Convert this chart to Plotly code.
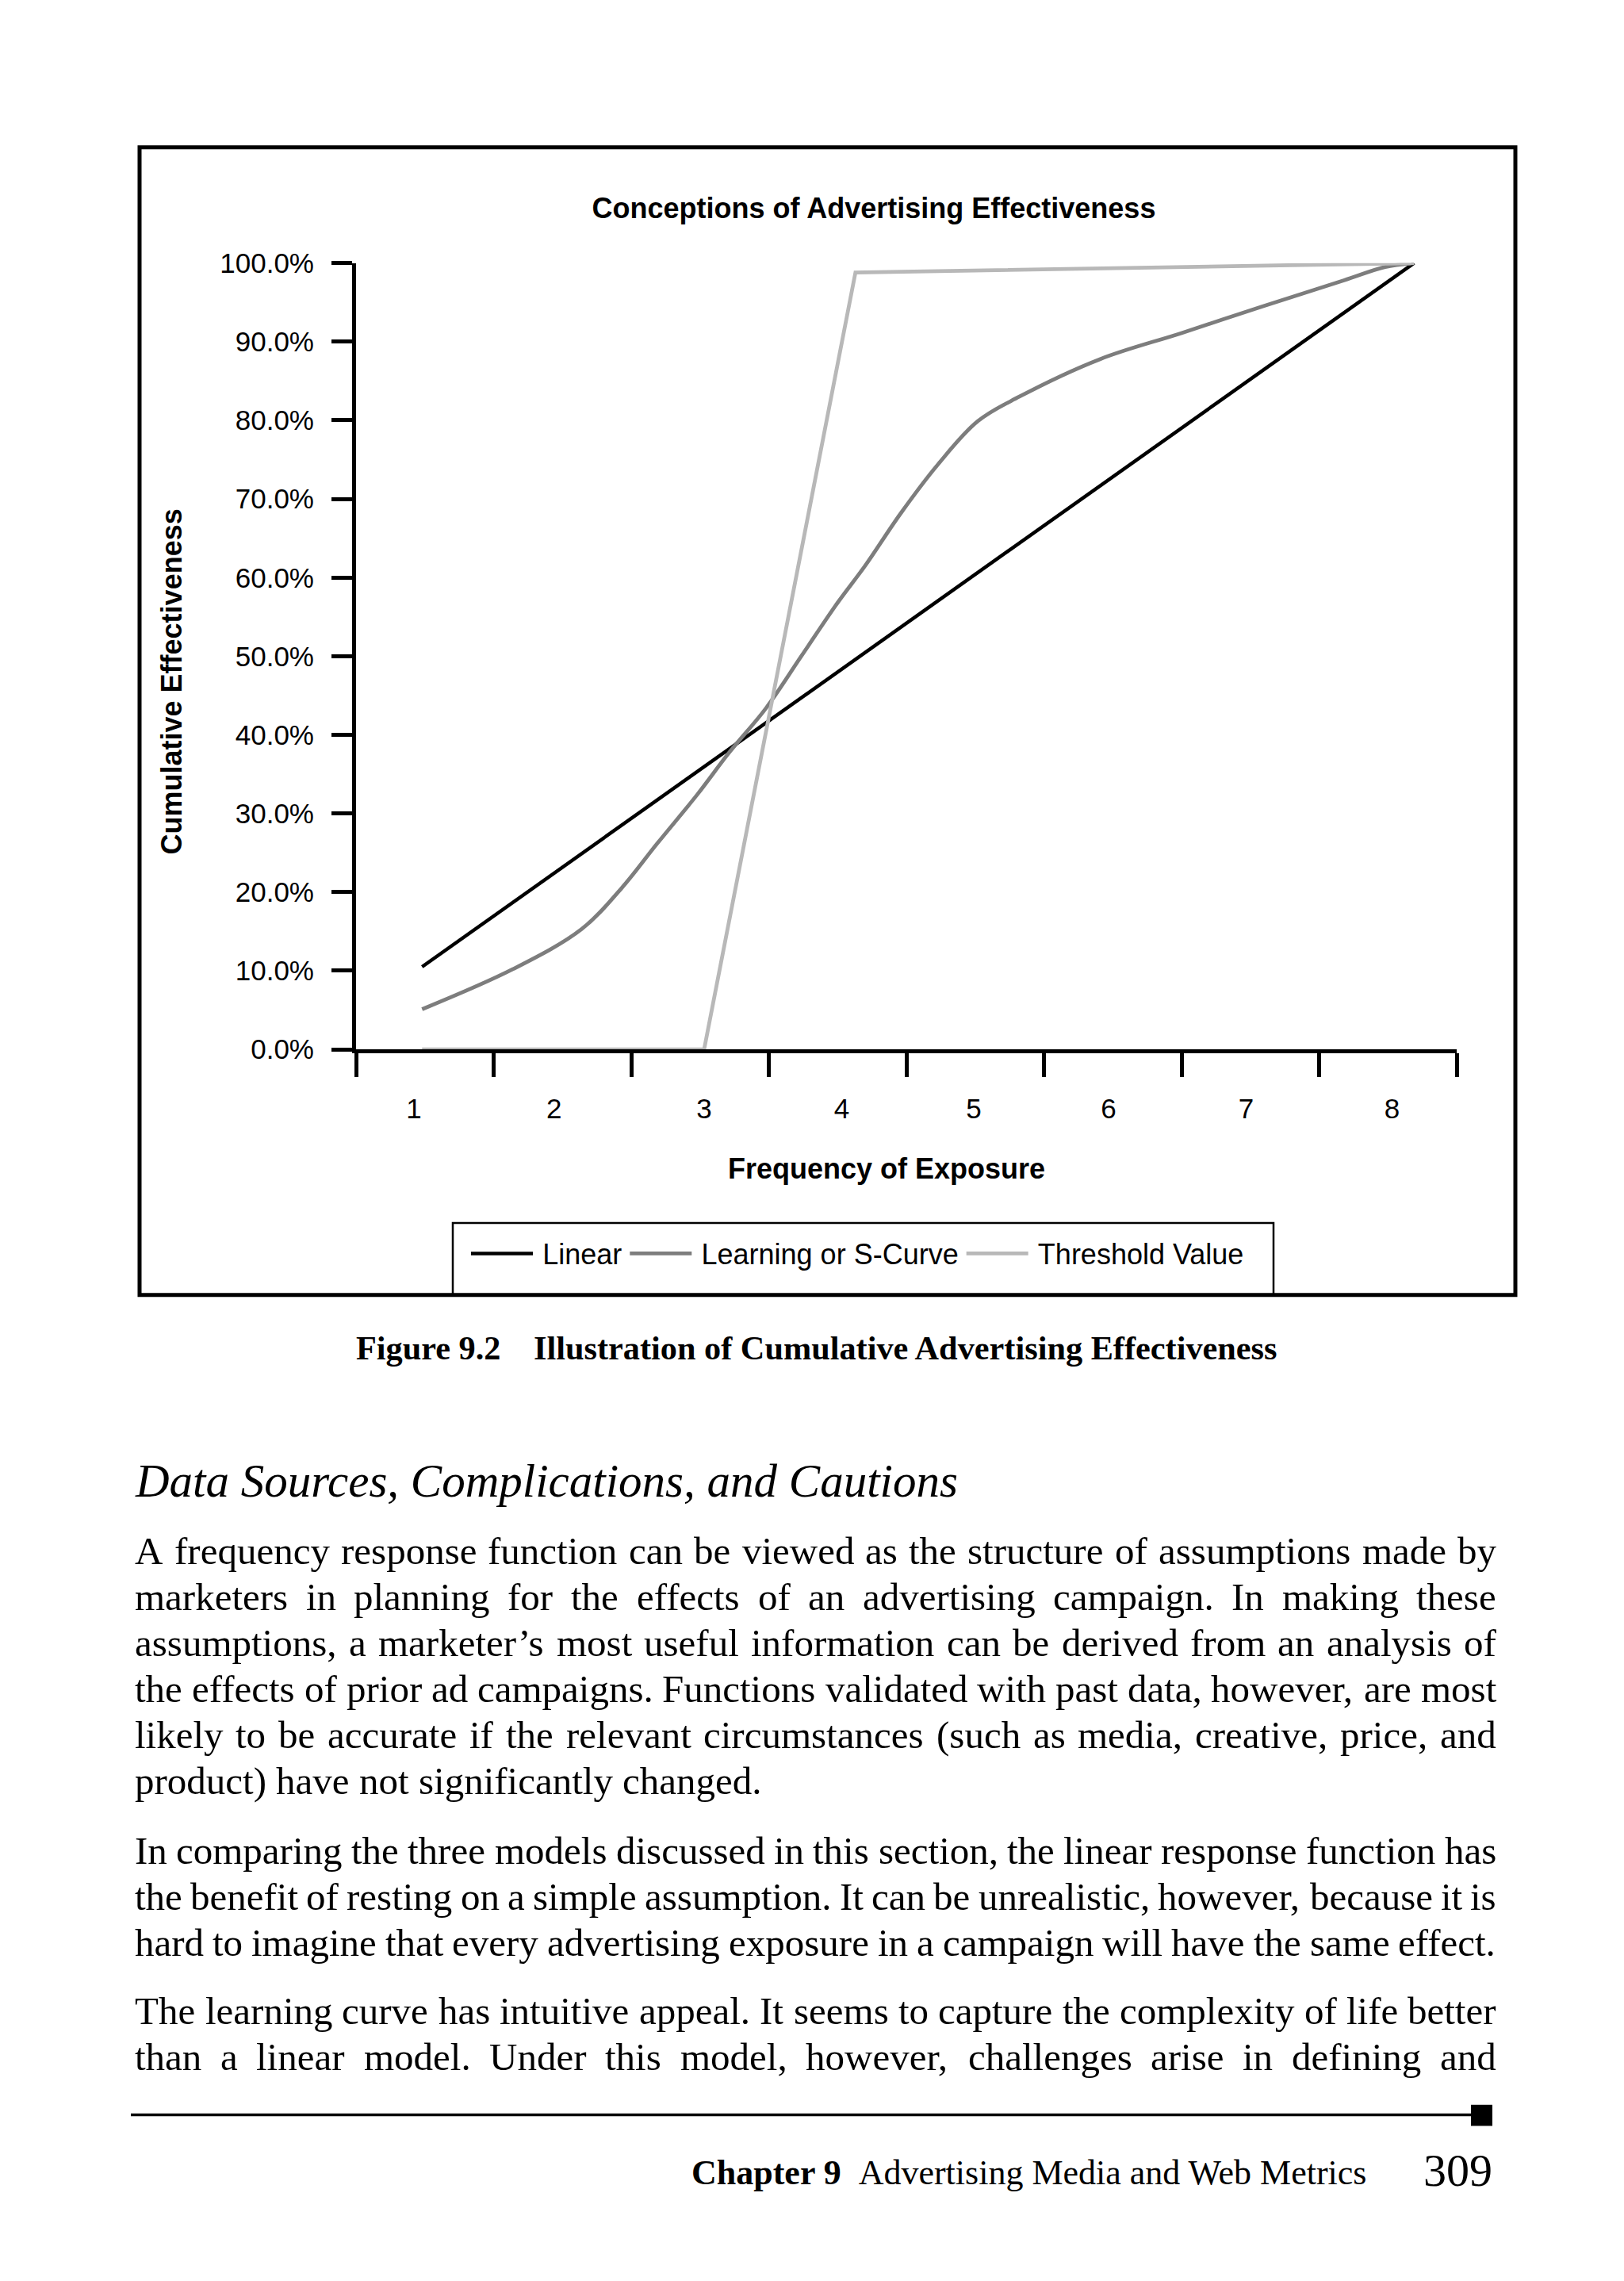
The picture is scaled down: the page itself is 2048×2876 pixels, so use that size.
import plotly.graph_objects as go

W, H = 2048, 2876


def X(px):
    return px / W


def Y(py):
    return 1 - py / H


# ---------------- chart data ----------------
linear_x = [0.98, 8.19]
linear_y = [10.5, 100.0]

scurve_x = [0.98, 1.64, 2.14, 2.43, 2.69, 2.98, 3.21, 3.48, 3.74, 4.0, 4.2,
            4.46, 4.73, 5.02, 5.32, 5.91, 6.5, 7.09, 7.68, 7.98, 8.19]
scurve_y = [5.1, 10.2, 15.3, 20.5, 26.2, 32.4, 37.7, 43.4, 50.1, 56.8, 61.5,
            68.2, 74.4, 79.9, 83.0, 87.8, 91.1, 94.5, 97.8, 99.5, 100.0]

threshold_x = [0.98, 3.03, 4.13, 8.19]
threshold_y = [0.0, 0.0, 98.8, 100.0]

# category label positions (labels are not exactly centred between the ticks)
x_tick_vals = [0.92, 1.94, 3.03, 4.03, 4.99, 5.97, 6.97, 8.03]
x_tick_text = ["1", "2", "3", "4", "5", "6", "7", "8"]
x_boundaries = [0.5, 1.5, 2.5, 3.5, 4.5, 5.5, 6.5, 7.5, 8.5]
y_tick_vals = [0, 10, 20, 30, 40, 50, 60, 70, 80, 90, 100]
y_tick_text = ["0.0%", "10.0%", "20.0%", "30.0%", "40.0%", "50.0%",
               "60.0%", "70.0%", "80.0%", "90.0%", "100.0%"]

series_names = ["Linear", "Learning or S-Curve", "Threshold Value"]
series_colors = ["#000000", "#7d7d7d", "#b8b8b8"]

chart_title = "Conceptions of Advertising Effectiveness"
x_title = "Frequency of Exposure"
y_title = "Cumulative Effectiveness"

# ---------------- page text ----------------
caption_label = "Figure 9.2"
caption_text = "Illustration of Cumulative Advertising Effectiveness"
heading = "Data Sources, Complications, and Cautions"
paragraphs = [
    [
        "A frequency response function can be viewed as the structure of assumptions made by",
        "marketers in planning for the effects of an advertising campaign. In making these",
        "assumptions, a marketer\u2019s most useful information can be derived from an analysis of",
        "the effects of prior ad campaigns. Functions validated with past data, however, are most",
        "likely to be accurate if the relevant circumstances (such as media, creative, price, and",
        "product) have not significantly changed.",
    ],
    [
        "In comparing the three models discussed in this section, the linear response function has",
        "the benefit of resting on a simple assumption. It can be unrealistic, however, because it is",
        "hard to imagine that every advertising exposure in a campaign will have the same effect.",
    ],
    [
        "The learning curve has intuitive appeal. It seems to capture the complexity of life better",
        "than a linear model. Under this model, however, challenges arise in defining and",
    ],
]
paragraph_continues = [False, False, True]
footer_chapter = "Chapter 9"
footer_title = "Advertising Media and Web Metrics"
page_number = "309"

SANS = "Liberation Sans"
SERIF = "Liberation Serif"

# Times-Roman metrics (Liberation Serif is metric compatible)
TIMES = {" ": 250, "a": 444, "b": 500, "c": 444, "d": 500, "e": 444, "f": 333, "g": 500,
         "h": 500, "i": 278, "j": 278, "k": 500, "l": 278, "m": 778, "n": 500, "o": 500,
         "p": 500, "q": 500, "r": 333, "s": 389, "t": 278, "u": 500, "v": 500, "w": 722,
         "x": 500, "y": 500, "z": 444, "A": 722, "B": 667, "C": 667, "D": 722, "E": 611,
         "F": 556, "G": 722, "H": 722, "I": 333, "J": 389, "K": 722, "L": 611, "M": 889,
         "N": 722, "O": 722, "P": 556, "Q": 722, "R": 667, "S": 556, "T": 611, "U": 722,
         "V": 722, "W": 944, "X": 722, "Y": 722, "Z": 611, ",": 250, ".": 250, "(": 333,
         ")": 333, "\u2019": 333, "'": 180, "-": 333, ":": 278, ";": 278}


def text_width(s, fs):
    return sum(TIMES.get(c, 500) for c in s) / 1000.0 * fs


fig = go.Figure()
for xs, ys, name, color, width, shape in [
    (linear_x, linear_y, series_names[0], series_colors[0], 4.5, "linear"),
    (scurve_x, scurve_y, series_names[1], series_colors[1], 4.8, "spline"),
    (threshold_x, threshold_y, series_names[2], series_colors[2], 4.8, "linear"),
]:
    fig.add_trace(go.Scatter(
        x=xs, y=ys, mode="lines", name="\u2009" + name,
        line=dict(color=color, width=width, shape=shape),
        cliponaxis=False, hoverinfo="skip",
    ))

annotations = []


def ann(text, px, py, size, family=SANS, xanchor="center", yanchor="middle", angle=0, color="black"):
    annotations.append(dict(
        text=text, x=X(px), y=Y(py), xref="paper", yref="paper",
        xanchor=xanchor, yanchor=yanchor, showarrow=False, textangle=angle,
        font=dict(family=family, size=size, color=color),
        borderpad=0, borderwidth=0,
    ))


# axis titles
ann("<b>" + x_title + "</b>", 1118, 1473, 36)
ann("<b>" + y_title + "</b>", 216, 851, 36, angle=-90)

# caption
ann("<b>" + caption_label + "</b>", 449, 1703, 42.3, family=SERIF, xanchor="left")
ann("<b>" + caption_text + "</b>", 673, 1703, 42.3, family=SERIF, xanchor="left")

# heading
ann("<i>" + heading + "</i>", 170, 1872, 59, family=SERIF, xanchor="left")

# body text, justified word by word
BODY_FS = 49
LEFT, RIGHT = 170, 1887
line_gap = 58.8
para_starts = [1962, 2345, 2550]
for p_i, lines in enumerate(paragraphs):
    for l_i, line in enumerate(lines):
        py = para_starts[p_i] + l_i * line_gap
        words = line.split(" ")
        widths = [text_width(w, BODY_FS) for w in words]
        last = (l_i == len(lines) - 1) and not paragraph_continues[p_i]
        normal_gap = TIMES[" "] / 1000.0 * BODY_FS
        if len(words) == 1:
            gap = normal_gap
        else:
            just_gap = (RIGHT - LEFT - sum(widths)) / (len(words) - 1)
            gap = min(normal_gap, just_gap) if last else just_gap
        cur = LEFT
        for w, wd in zip(words, widths):
            ann(w, cur, py, BODY_FS, family=SERIF, xanchor="left")
            cur += wd + gap

# footer
ann("<b>" + footer_chapter + "</b>\u2002" + footer_title, 1723, 2757, 44, family=SERIF, xanchor="right")
ann(page_number, 1882, 2754, 58, family=SERIF, xanchor="right")

shapes = [
    # chart frame
    dict(type="rect", xref="paper", yref="paper", x0=X(176), x1=X(1911), y0=Y(1635), y1=Y(168),
         line=dict(color="black", width=5)),
    # legend frame
    dict(type="rect", xref="paper", yref="paper", x0=X(571), x1=X(1606), y0=Y(1635), y1=Y(1543),
         line=dict(color="black", width=2.5)),
    # footer rule and square
    dict(type="line", xref="paper", yref="paper", x0=X(165), x1=X(1860), y0=Y(2683), y1=Y(2683),
         line=dict(color="black", width=3.5)),
    dict(type="rect", xref="paper", yref="paper", x0=X(1855), x1=X(1882), y0=Y(2697), y1=Y(2670),
         line=dict(color="black", width=0), fillcolor="black"),
]

fig.update_layout(
    width=W, height=H, autosize=False,
    margin=dict(l=0, r=0, t=0, b=0, pad=0),
    paper_bgcolor="white", plot_bgcolor="white",
    hovermode=False,
    title=dict(text="<b>" + chart_title + "</b>", x=X(1102), y=Y(262), xanchor="center", yanchor="middle",
               font=dict(family=SANS, size=36, color="black")),
    xaxis=dict(
        domain=[X(449), X(1837)], range=[0.5, 8.5], fixedrange=True,
        showline=True, linecolor="black", linewidth=5,
        tickmode="array", tickvals=x_tick_vals, ticktext=x_tick_text,
        ticks="outside", ticklen=30, tickwidth=1, tickcolor="rgba(0,0,0,0)",
        ticklabelstandoff=10,
        minor=dict(tickmode="array", tickvals=x_boundaries, ticks="outside", ticklen=30,
                   tickwidth=4.5, tickcolor="black", showgrid=False),
        showgrid=False, zeroline=False, layer="below traces",
        tickfont=dict(family=SANS, size=35, color="black"),
    ),
    yaxis=dict(
        domain=[Y(1321), Y(316)], range=[0, 100], fixedrange=True,
        showline=True, linecolor="black", linewidth=5,
        tickmode="array", tickvals=y_tick_vals, ticktext=y_tick_text,
        ticks="outside", ticklen=26, tickwidth=4.5, tickcolor="black",
        ticklabelstandoff=15,
        showgrid=False, zeroline=False, layer="below traces",
        tickfont=dict(family=SANS, size=35, color="black"),
    ),
    showlegend=True,
    legend=dict(
        orientation="h", x=X(589), xanchor="left", y=Y(1582), yanchor="middle",
        font=dict(family=SANS, size=36, color="black"),
        itemwidth=78, bgcolor="rgba(0,0,0,0)", borderwidth=0,
        itemclick=False, itemdoubleclick=False,
    ),
    annotations=annotations,
    shapes=shapes,
)

fig.write_html("out.html", config={"displayModeBar": False},
               post_script="document.body.style.margin='0px';")
